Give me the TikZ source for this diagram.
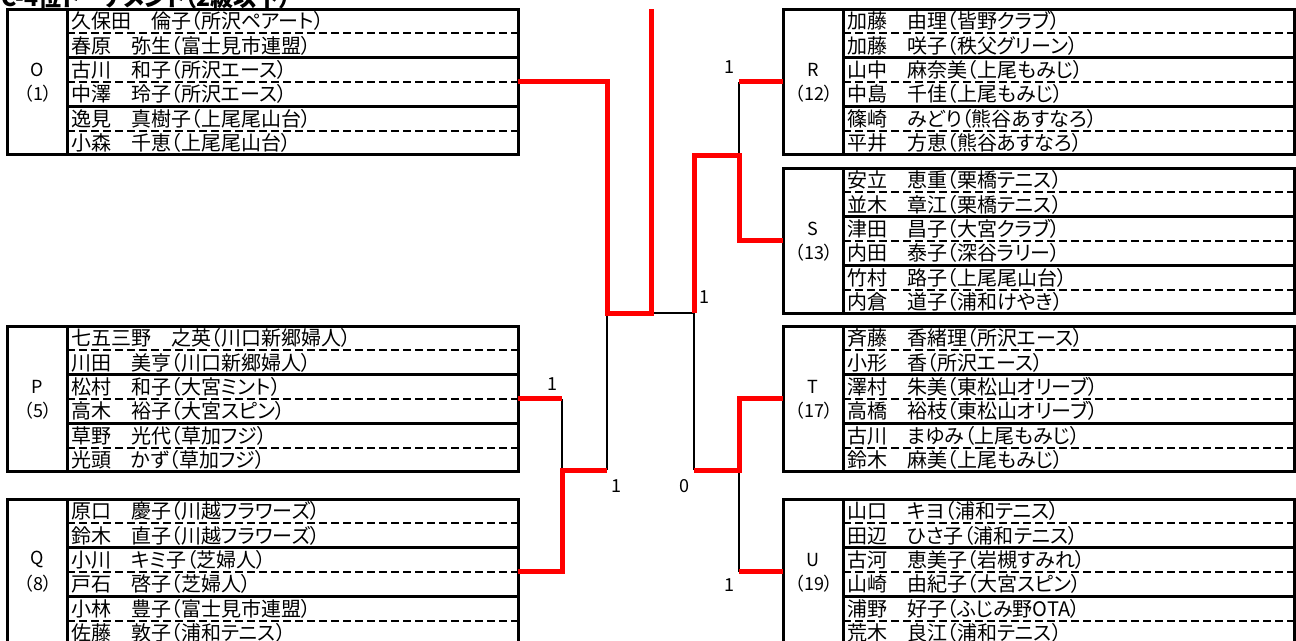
\documentclass[tikz,border=0pt]{standalone}
\usepackage{fontspec}
\setmainfont{Noto Sans CJK JP}[RawFeature=+palt]
\usepackage{tikz}
\usetikzlibrary{calc}
\tikzstyle{block} = [draw, line width=3pt, minimum width=511pt, minimum height=145.8pt, inner sep=0pt, outer sep=0pt, anchor=north west]
\tikzstyle{divider} = [draw, line width=3pt]
\tikzstyle{pairline} = [draw, line width=3pt]
\tikzstyle{halfline} = [draw, line width=2pt, dash pattern=on 8pt off 4pt]
\tikzstyle{player} = [anchor=west, inner sep=0pt, font=\fontsize{20}{22}\selectfont, text height=16pt, text depth=0.5pt]
\tikzstyle{seedtext} = [inner sep=0pt, font=\fontsize{18}{20}\selectfont]
\tikzstyle{score} = [inner sep=0pt, font=\fontsize{18}{20}\selectfont]
\tikzstyle{lose} = [draw, line width=2pt]
\tikzstyle{win} = [draw, red, line width=5pt]

% #1 name, #2/#3 top left corner, #4 letter, #5 seed, #6 players
\newcommand{\drawblock}[6]{%
  \node (#1) [block] at (#2,#3) {};
  \path[divider] ($(#1.north west)+(60,0)$) -- ($(#1.south west)+(60,0)$);
  \foreach \k in {2,4}
    \path[pairline] ($(#1.north west)+(60,\k*24.3)$) -- ($(#1.north east)+(0,\k*24.3)$);
  \foreach \k in {1,3,5}
    \path[halfline] ($(#1.north west)+(60,\k*24.3)$) -- ($(#1.north east)+(0,\k*24.3)$);
  \foreach \n [count=\i] in {#6}
    \node (#1-\i) [player] at ($(#1.north west)+(64,\i*24.3-12.15)$) {\n};
  \node (#1-name) [seedtext] at ($(#1.north west)+(30,60.75)$) {#4};
  \node (#1-seed) [seedtext] at ($(#1.north west)+(31,85.05)$) {#5};
}

\begin{document}
\begin{tikzpicture}[x=1pt, y=-1pt]
\useasboundingbox (0,0) rectangle (1296,640);
\clip (0,0) rectangle (1296,640);

% title
\node (title) [anchor=base west, inner sep=0pt, font=\bfseries\fontsize{23}{23}\selectfont] at (1,6) {C-4位トーナメント（2級以下）};

% blocks
\drawblock{bO}{7}{9}{O}{（1）}{久保田　倫子（所沢ペアート）,春原　弥生（富士見市連盟）,古川　和子（所沢エース）,中澤　玲子（所沢エース）,逸見　真樹子（上尾尾山台）,小森　千恵（上尾尾山台）}
\drawblock{bP}{7}{326}{P}{（5）}{七五三野　之英（川口新郷婦人）,川田　美亨（川口新郷婦人）,松村　和子（大宮ミント）,高木　裕子（大宮スピン）,草野　光代（草加フジ）,光頭　かず（草加フジ）}
\drawblock{bQ}{7}{499}{Q}{（8）}{原口　慶子（川越フラワーズ）,鈴木　直子（川越フラワーズ）,小川　キミ子（芝婦人）,戸石　啓子（芝婦人）,小林　豊子（富士見市連盟）,佐藤　敦子（浦和テニス）}
\drawblock{bR}{783}{9}{R}{（12）}{加藤　由理（皆野クラブ）,加藤　咲子（秩父グリーン）,山中　麻奈美（上尾もみじ）,中島　千佳（上尾もみじ）,篠崎　みどり（熊谷あすなろ）,平井　方恵（熊谷あすなろ）}
\drawblock{bS}{783}{168}{S}{（13）}{安立　恵重（栗橋テニス）,並木　章江（栗橋テニス）,津田　昌子（大宮クラブ）,内田　泰子（深谷ラリー）,竹村　路子（上尾尾山台）,内倉　道子（浦和けやき）}
\drawblock{bT}{783}{326}{T}{（17）}{斉藤　香緒理（所沢エース）,小形　香（所沢エース）,澤村　朱美（東松山オリーブ）,高橋　裕枝（東松山オリーブ）,古川　まゆみ（上尾もみじ）,鈴木　麻美（上尾もみじ）}
\drawblock{bU}{783}{499}{U}{（19）}{山口　キヨ（浦和テニス）,田辺　ひさ子（浦和テニス）,古河　恵美子（岩槻すみれ）,山崎　由紀子（大宮スピン）,浦野　好子（ふじみ野OTA）,荒木　良江（浦和テニス）}

% junctions
\coordinate (jO)   at (607,81.9);
\coordinate (jP)   at (562,398.9);
\coordinate (jQ)   at (562,571.9);
\coordinate (jPQ)  at (562,470);
\coordinate (jPQo) at (607,470);
\coordinate (jL)   at (607,313);
\coordinate (jF)   at (651,313);
\coordinate (jTop) at (651,9);
\coordinate (jR)   at (694,313);
\coordinate (jRr)  at (739,81.9);
\coordinate (jS)   at (739,240.9);
\coordinate (jRS)  at (739,155);
\coordinate (jRSo) at (694,155);
\coordinate (jT)   at (739,398.9);
\coordinate (jU)   at (739,571.9);
\coordinate (jTU)  at (739,470);
\coordinate (jTUo) at (694,470);

% edges
\path[lose] (jP) -- (jPQ);
\path[lose] (jPQo) -- (jL);
\path[lose] (jF) -- (jR);
\path[lose] (jRr) -- (jRS);
\path[lose] (jTUo) -- (jR);
\path[lose] (jTU) -- (jU);

\path[win] (bO.east) -- (jO) -- (jL) -- (jF) -- (jTop);
\path[win] (bP.east) -- (jP);
\path[win] (bQ.east) -- (jQ) -- (jPQ) -- (jPQo);
\path[win] (bR.west) -- (jRr);
\path[win] (bS.west) -- (jS) -- (jRS) -- (jRSo) -- (jR);
\path[win] (bT.west) -- (jT) -- (jTU) -- (jTUo);
\path[win] (bU.west) -- (jU);

% scores
\node (sP)  [score] at (552,384) {1};
\node (sPQ) [score] at (616,486) {1};
\node (sR)  [score] at (729,67)  {1};
\node (sRS) [score] at (704,297) {1};
\node (sTU) [score] at (684,486) {0};
\node (sU)  [score] at (729,585) {1};

\end{tikzpicture}
\end{document}
